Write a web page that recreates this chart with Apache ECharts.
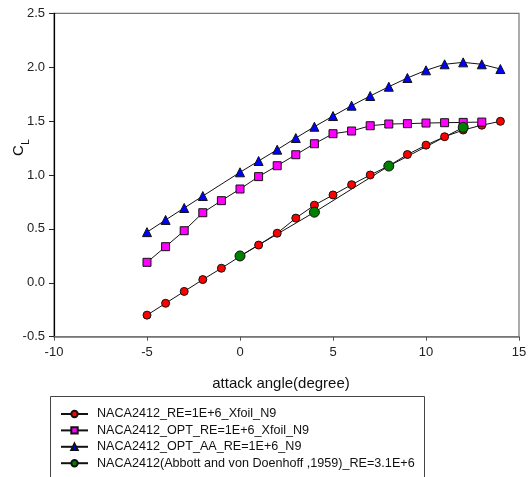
<!DOCTYPE html>
<html>
<head>
<meta charset="utf-8">
<script src="https://cdn.jsdelivr.net/npm/echarts@6/dist/echarts.min.js"></script>
<style>html,body{margin:0;padding:0;background:#fff}#c{width:532px;height:477px}</style>
</head>
<body>
<div id="c"></div>
<script>
// ---- data ----
var redAngles = [-5,-4,-3,-2,-1,0,1,2,3,4,5,6,7,8,9,10,11,12,13,14];
var redCL = [-0.30,-0.19,-0.08,0.03,0.135,0.245,0.35,0.46,0.60,0.72,0.815,0.91,1.00,1.085,1.19,1.277,1.355,1.417,1.462,1.498];
var magAngles = [-5,-4,-3,-2,-1,0,1,2,3,4,5,6,7,8,9,10,11,12,13];
var magCL = [0.19,0.335,0.483,0.65,0.762,0.87,0.985,1.086,1.188,1.29,1.383,1.408,1.457,1.473,1.476,1.482,1.485,1.488,1.491];
var blueAngles = [-5,-4,-3,-2,0,1,2,3,4,5,6,7,8,9,10,11,12,13,14];
var blueCL = [0.47,0.583,0.694,0.805,1.025,1.13,1.235,1.343,1.448,1.547,1.643,1.733,1.819,1.90,1.971,2.027,2.045,2.027,1.983];
var greenAngles = [0,4,8,12];
var greenCL = [0.249,0.655,1.083,1.442];
var seriesNames = [
  'NACA2412_RE=1E+6_Xfoil_N9',
  'NACA2412_OPT_RE=1E+6_Xfoil_N9',
  'NACA2412_OPT_AA_RE=1E+6_N9',
  'NACA2412(Abbott and von Doenhoff ,1959)_RE=3.1E+6'
];
var xTitle = 'attack angle(degree)';

function pairs(xs, ys){ return xs.map(function(x,i){ return [x, ys[i]]; }); }

var FONT = '"Liberation Sans", Arial, sans-serif';
var chart = echarts.init(document.getElementById('c'), null, {renderer:'canvas'});

function mk(name, xs, ys, symbol, size, color){
  return {
    name: name, type: 'line', data: pairs(xs, ys),
    symbol: symbol, symbolSize: size, showAllSymbol: true,
    lineStyle: {color: '#111', width: 1},
    itemStyle: {color: color, borderColor: '#111', borderWidth: 1},
    emphasis: {disabled: true},
    animation: false
  };
}

chart.setOption({
  animation: false,
  grid: {left: 54, right: 13, top: 13.3, bottom: 140.3, show: true, borderColor: '#777', borderWidth: 1.2},
  xAxis: {
    type: 'value', min: -10, max: 15, interval: 5,
    axisLine: {onZero: false, lineStyle: {color: '#777', width: 1.5}},
    axisTick: {show: true, length: 4, lineStyle: {color: '#555'}},
    axisLabel: {margin: 9, fontSize: 13, fontFamily: FONT, color: '#222'},
    splitLine: {show: false}
  },
  yAxis: {
    type: 'value', min: -0.5, max: 2.5, interval: 0.5,
    axisLine: {onZero: false, lineStyle: {color: '#000', width: 1.2}},
    axisTick: {show: true, length: 5, lineStyle: {color: '#222'}},
    axisLabel: {margin: 9, fontSize: 13, fontFamily: FONT, color: '#222',
      formatter: function(v){ return v.toFixed(1); }},
    splitLine: {show: false}
  },
  legend: {
    orient: 'vertical', left: 60, top: 407.5, padding: 0, height: 80,
    itemWidth: 27, itemHeight: 8, itemGap: 3.4,
    data: seriesNames,
    textStyle: {fontSize: 12.6, fontFamily: FONT, color: '#111', padding: [0,0,0,4]}
  },
  graphic: [
    {type: 'rect', shape: {x: 50.5, y: 396.5, width: 374, height: 120}, style: {fill: 'none', stroke: '#444', lineWidth: 1}, silent: true},
    {type: 'text', x: 281, y: 384, style: {text: xTitle, font: '15px ' + FONT, fill: '#111', align: 'center', verticalAlign: 'middle'}},
    {type: 'text', x: 19, y: 150.5, rotation: Math.PI/2, style: {text: 'C', font: '15px ' + FONT, fill: '#111', align: 'center', verticalAlign: 'middle'}},
    {type: 'text', x: 26, y: 142, rotation: Math.PI/2, style: {text: 'L', font: '10px ' + FONT, fill: '#111', align: 'center', verticalAlign: 'middle'}}
  ],
  series: [
    mk(seriesNames[0], redAngles, redCL, 'circle', 8, '#ff0000'),
    mk(seriesNames[1], magAngles, magCL, 'rect', 8, '#ff00ff'),
    mk(seriesNames[2], blueAngles, blueCL, 'triangle', 9, '#0000ff'),
    mk(seriesNames[3], greenAngles, greenCL, 'circle', 10, '#008000')
  ]
});
</script>
</body>
</html>
